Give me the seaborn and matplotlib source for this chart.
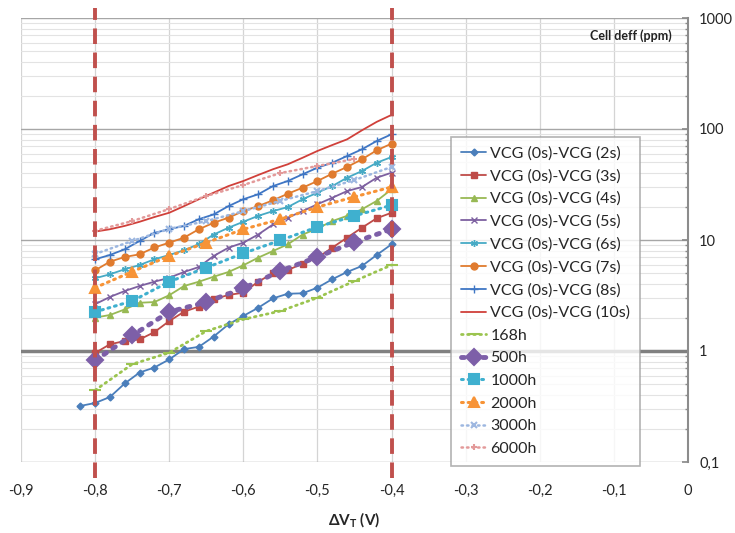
import numpy as np
import seaborn as sns
import matplotlib.pyplot as plt
import pandas as pd
from matplotlib.ticker import LogLocator, NullFormatter, FixedLocator

# ---- data ----
x_2s = [-0.82, -0.80, -0.78, -0.76, -0.74, -0.72, -0.70, -0.68, -0.66, -0.64, -0.62,
        -0.60, -0.58, -0.56, -0.54, -0.52, -0.50, -0.48, -0.46, -0.44, -0.42, -0.40]
x_vcg = [-0.80, -0.78, -0.76, -0.74, -0.72, -0.70, -0.68, -0.66, -0.64, -0.62,
         -0.60, -0.58, -0.56, -0.54, -0.52, -0.50, -0.48, -0.46, -0.44, -0.42, -0.40]
x_age = [-0.80, -0.75, -0.70, -0.65, -0.60, -0.55, -0.50, -0.45, -0.40]
x_6000 = [-0.80, -0.75, -0.70, -0.65, -0.60, -0.55, -0.50, -0.45]

vcg_2s = [0.32, 0.34, 0.385, 0.51, 0.64, 0.71, 0.84, 1.04, 1.09, 1.35, 1.74,
          2.07, 2.45, 2.98, 3.28, 3.31, 3.72, 4.43, 5.15, 5.83, 7.33, 9.15]
vcg_3s = [0.96, 1.15, 1.23, 1.27, 1.48, 1.86, 2.26, 2.51, 2.92, 3.20, 3.35,
          4.21, 5.01, 5.37, 6.11, 6.93, 8.53, 10.5, 12.9, 15.7, 17.6]
vcg_4s = [2.0, 2.11, 2.37, 2.72, 2.76, 3.18, 3.85, 4.21, 4.67, 5.15, 5.92,
          6.93, 7.96, 9.15, 11.2, 12.7, 14.8, 16.5, 18.9, 22.5, 28.6]
vcg_5s = [2.64, 3.07, 3.47, 3.85, 4.21, 4.57, 5.15, 5.71, 7.18, 8.53, 9.46,
          11.2, 13.8, 15.9, 18.2, 21.0, 24.0, 27.6, 30.0, 36.4, 40.4]
vcg_6s = [4.52, 4.91, 5.45, 5.95, 6.70, 7.33, 8.08, 9.20, 11.2, 12.9, 14.6,
          16.5, 18.2, 19.8, 23.3, 26.7, 30.6, 36.4, 41.8, 49.7, 55.9]
vcg_7s = [5.33, 6.38, 7.03, 7.43, 8.56, 9.46, 10.5, 12.5, 14.3, 15.9, 18.2,
          20.2, 22.8, 26.1, 29.6, 34.0, 39.6, 45.5, 53.3, 64.3, 73.8]
vcg_8s = [6.70, 7.33, 8.25, 9.80, 11.6, 12.5, 13.4, 15.4, 17.0, 20.2, 23.3,
          25.8, 30.6, 34.0, 39.1, 44.8, 49.7, 57.1, 65.6, 78.0, 89.6]
vcg_10s = [11.9, 12.5, 13.4, 14.6, 16.1, 17.6, 20.2, 23.3, 26.7, 30.6, 34.0,
           38.5, 43.4, 48.1, 55.1, 63.4, 71.7, 80.7, 97.3, 116, 134]

age_168 = [0.443, 0.76, 0.965, 1.51, 1.93, 2.29, 3.02, 4.27, 5.95]
age_500 = [0.824, 1.38, 2.25, 2.76, 3.67, 5.26, 7.03, 9.59, 12.5]
age_1000 = [2.25, 2.82, 4.21, 5.63, 7.59, 9.94, 13.1, 16.5, 20.6]
age_2000 = [3.72, 5.18, 7.18, 9.46, 12.5, 15.4, 19.8, 24.5, 30.0]
age_3000 = [7.48, 9.8, 12.6, 14.8, 18.2, 22.5, 27.6, 34.7, 45.5]
age_6000 = [12.1, 14.8, 19.0, 24.9, 31.3, 40.1, 46.4, 53.7]

x_ticks = [-0.9, -0.8, -0.7, -0.6, -0.5, -0.4, -0.3, -0.2, -0.1, 0]
x_tick_labels = ['-0,9', '-0,8', '-0,7', '-0,6', '-0,5', '-0,4', '-0,3', '-0,2', '-0,1', '0']
y_ticks = [0.1, 1, 10, 100, 1000]
y_tick_labels = ['0,1', '1', '10', '100', '1000']
limits = [-0.8, -0.4]

sns.set_theme(style="white")
plt.rcParams['font.family'] = ['Lato', 'DejaVu Sans']
plt.rcParams['mathtext.fontset'] = 'custom'
plt.rcParams['mathtext.rm'] = 'Lato'
plt.rcParams['mathtext.bf'] = 'Lato:bold'

fig = plt.figure(figsize=(7.35, 5.33), dpi=100)
ax = fig.add_axes([21 / 735, 71 / 533, 667 / 735, 444 / 533])

# solid VCG series
solid = [
    ('VCG (0s)-VCG (2s)', x_2s, vcg_2s, '#4a7ebb', 'D', 3.5),
    ('VCG (0s)-VCG (3s)', x_vcg, vcg_3s, '#be4b48', 's', 4.5),
    ('VCG (0s)-VCG (4s)', x_vcg, vcg_4s, '#98b954', '^', 4.5),
    ('VCG (0s)-VCG (5s)', x_vcg, vcg_5s, '#7d60a0', 'x', 4.5),
    ('VCG (0s)-VCG (6s)', x_vcg, vcg_6s, '#46aac5', (6, 2, 0), 5),
    ('VCG (0s)-VCG (7s)', x_vcg, vcg_7s, '#e07b2e', 'o', 5),
    ('VCG (0s)-VCG (8s)', x_vcg, vcg_8s, '#3f76c4', '+', 6),
    ('VCG (0s)-VCG (10s)', x_vcg, vcg_10s, '#d0403a', None, 0),
]
for name, xs, ys, col, mk, ms in solid:
    sns.lineplot(x=xs, y=ys, ax=ax, color=col, marker=mk, markersize=ms, lw=1.3,
                 markeredgecolor=col, markeredgewidth=1.0, label=name,
                 sort=False, estimator=None)

# dotted ageing series
dotted = [
    ('168h', x_age, age_168, '#9bc44f', '_', 8, 2.0),
    ('500h', x_age, age_500, '#7d5fa8', 'D', 8, 3.5),
    ('1000h', x_age, age_1000, '#3fb0cf', 's', 7, 2.2),
    ('2000h', x_age, age_2000, '#f79336', '^', 7, 2.2),
    ('3000h', x_age, age_3000, '#9db7e0', 'x', 4, 1.8),
    ('6000h', x_6000, age_6000, '#e39a9a', '+', 5, 1.8),
]
for name, xs, ys, col, mk, ms, lw in dotted:
    sns.lineplot(x=xs, y=ys, ax=ax, color=col, marker=mk, markersize=ms, lw=lw,
                 markeredgecolor=col, markeredgewidth=1.5, label=name,
                 sort=False, estimator=None, linestyle=(0, (0.6, 1.6)),
                 dash_capstyle='round')

ax.set_yscale('log')
ax.set_xlim(-0.9, 0)
ax.set_ylim(0.1, 1000)

# grid
ax.yaxis.set_minor_locator(LogLocator(base=10, subs=np.arange(2, 10)))
ax.yaxis.set_minor_formatter(NullFormatter())
ax.xaxis.set_major_locator(FixedLocator(x_ticks))
ax.grid(which='major', axis='y', color='#a6a6a6', lw=1.0)
ax.grid(which='minor', axis='y', color='#e3e3e3', lw=0.8)
ax.grid(which='major', axis='x', color='#d4d4d4', lw=0.9)
ax.set_axisbelow(True)
ax.axhline(1, color='#808080', lw=2.5, zorder=1.5)

for xv in limits:
    ax.axvline(xv, ymin=-0.035, ymax=1.022, color='#c0504d', lw=2.8,
               linestyle=(0, (4, 2.2)), clip_on=False, zorder=5)

# axes / ticks
for s in ['top', 'left', 'bottom']:
    ax.spines[s].set_visible(False)
ax.spines['right'].set_color('#8c8c8c')
ax.spines['right'].set_linewidth(1.5)
ax.yaxis.tick_right()
ax.set_yticks(y_ticks)
ax.set_yticklabels(y_tick_labels)
ax.tick_params(axis='y', which='major', direction='in', length=4, color='#8c8c8c',
               labelsize=10.5, pad=8, right=True, left=False)
ax.tick_params(axis='y', which='minor', direction='in', length=2.5, color='#8c8c8c',
               right=True, left=False)
ax.set_xticks(x_ticks)
ax.set_xticklabels(x_tick_labels)
ax.tick_params(axis='x', length=0, labelsize=10.5, pad=16)

ax.set_xlabel('ΔV$_\\mathbf{T}$ (V)', fontsize=11, fontweight='bold', labelpad=9)
ax.set_ylabel('')
ax.text(0.976, 0.975, 'Cell deff (ppm)', transform=ax.transAxes, ha='right', va='top',
        fontsize=9, fontweight='bold', color='#222222')

leg = ax.legend(loc='upper right', bbox_to_anchor=(0.928, 0.733), borderaxespad=0,
                fontsize=11.5, frameon=True, fancybox=False, handlelength=1.6,
                labelspacing=0.53, handletextpad=0.25, borderpad=0.6)
leg.get_frame().set_edgecolor('#a0a0a0')
leg.get_frame().set_linewidth(1.2)

fig.savefig('out.png', dpi=100)
